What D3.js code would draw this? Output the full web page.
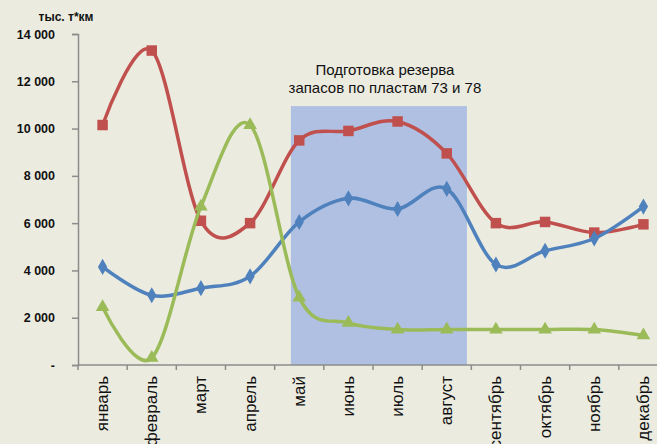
<!DOCTYPE html>
<html>
<head>
<meta charset="utf-8">
<script src="https://cdn.jsdelivr.net/npm/d3@7"></script>
<style>
  html, body { margin: 0; padding: 0; background: #EBEBE0; }
  svg { display: block; }
</style>
</head>
<body>
<svg id="chart" width="657" height="444"></svg>
<script>
// Months on the x axis
const months = ["январь", "февраль", "март", "апрель", "май", "июнь",
                "июль", "август", "сентябрь", "октябрь", "ноябрь", "декабрь"];

// Monthly series, тыс. т*км
const redValues   = [10150, 13300, 6100, 6000, 9500, 9900, 10300, 8950, 6000, 6050, 5600, 5950];
const blueValues  = [4150, 2950, 3250, 3750, 6050, 7050, 6600, 7450, 4250, 4830, 5350, 6700];
const greenValues = [2450, 300, 6700, 10150, 2850, 1780, 1500, 1500, 1500, 1500, 1500, 1250];

// Y axis ticks and their labels
const yTicks = [0, 2000, 4000, 6000, 8000, 10000, 12000, 14000];
const yTickLabels = ["-", "2 000", "4 000", "6 000", "8 000", "10 000", "12 000", "14 000"];

// Highlighted period: start and end in month units from the axis origin, top value
const zoneStart = 4.33, zoneEnd = 7.91, zoneTop = 10950;
const zoneText = ["Подготовка резерва", "запасов по пластам 73 и 78"];
const unitLabel = "тыс. т*км";

const svg = d3.select("#chart");
const font = "'Liberation Sans', Arial, sans-serif";

const plotLeft = 78, plotRight = 668, plotTop = 34, plotBottom = 365;

const x = d3.scaleBand().domain(months).range([plotLeft, plotRight]).padding(0);
const xCont = d3.scaleLinear().domain([0, months.length]).range([plotLeft, plotRight]);
const y = d3.scaleLinear().domain([0, 14000]).range([plotBottom, plotTop]);

// Highlight band
svg.append("rect")
  .attr("x", xCont(zoneStart))
  .attr("y", y(zoneTop))
  .attr("width", xCont(zoneEnd) - xCont(zoneStart))
  .attr("height", y(0) - y(zoneTop))
  .attr("fill", "#AFC0E3");

const zoneMid = (xCont(zoneStart) + xCont(zoneEnd)) / 2 + 6;
svg.append("text")
  .attr("x", zoneMid)
  .attr("y", 75)
  .attr("text-anchor", "middle")
  .attr("font-family", font)
  .attr("font-size", 15)
  .attr("fill", "#111")
  .selectAll("tspan")
  .data(zoneText)
  .join("tspan")
  .attr("x", zoneMid)
  .attr("dy", (d, i) => i === 0 ? 0 : 18)
  .text(d => d);

// Y axis
const yAxis = d3.axisLeft(y).tickValues(yTicks)
  .tickFormat((d, i) => yTickLabels[i]).tickSize(6).tickPadding(17);
const gy = svg.append("g").attr("transform", `translate(${plotLeft},0)`).call(yAxis);
gy.select(".domain").attr("stroke", "#8C8C8C").attr("stroke-width", 1.5);
gy.selectAll(".tick line").attr("stroke", "#8C8C8C").attr("stroke-width", 1.5);
gy.selectAll(".tick text")
  .attr("font-family", font).attr("font-size", 12.5).attr("font-weight", "bold").attr("fill", "#111");

svg.append("text")
  .attr("x", 66).attr("y", 21)
  .attr("text-anchor", "middle")
  .attr("font-family", font).attr("font-size", 12).attr("font-weight", "bold").attr("fill", "#111")
  .text(unitLabel);

// X axis with ticks at band boundaries
const gx = svg.append("g").attr("transform", `translate(0,${plotBottom})`);
gx.append("line").attr("x1", plotLeft).attr("x2", plotRight).attr("y1", 0).attr("y2", 0)
  .attr("stroke", "#8C8C8C").attr("stroke-width", 1.5);
gx.selectAll("line.tk").data(d3.range(months.length + 1)).join("line")
  .attr("class", "tk")
  .attr("x1", d => xCont(d)).attr("x2", d => xCont(d))
  .attr("y1", 0).attr("y2", 5)
  .attr("stroke", "#8C8C8C").attr("stroke-width", 1.5);
gx.selectAll("text").data(months).join("text")
  .attr("transform", d => `translate(${x(d) + x.bandwidth() / 2 + 5.5},11) rotate(-90)`)
  .attr("text-anchor", "end")
  .attr("font-family", font).attr("font-size", 17).attr("fill", "#111")
  .text(d => d);

// Smoothed series lines with markers
const line = d3.line()
  .x((d, i) => x(months[i]) + x.bandwidth() / 2)
  .y(d => y(d))
  .curve(d3.curveCardinal.tension(0));

const series = [
  { values: redValues,   color: "#C0504D", marker: d3.symbolSquare,   size: 110 },
  { values: blueValues,  color: "#4F81BD", marker: d3.symbolDiamond,  size: 75 },
  { values: greenValues, color: "#9BBB59", marker: d3.symbolTriangle, size: 80 }
];

series.forEach(s => {
  svg.append("path")
    .datum(s.values)
    .attr("d", line)
    .attr("fill", "none")
    .attr("stroke", s.color)
    .attr("stroke-width", 3.5)
    .attr("stroke-linejoin", "round");
  svg.selectAll(null).data(s.values).join("path")
    .attr("transform", (d, i) => `translate(${x(months[i]) + x.bandwidth() / 2},${y(d)})`)
    .attr("d", d3.symbol().type(s.marker).size(s.size))
    .attr("fill", s.color);
});
</script>
</body>
</html>
